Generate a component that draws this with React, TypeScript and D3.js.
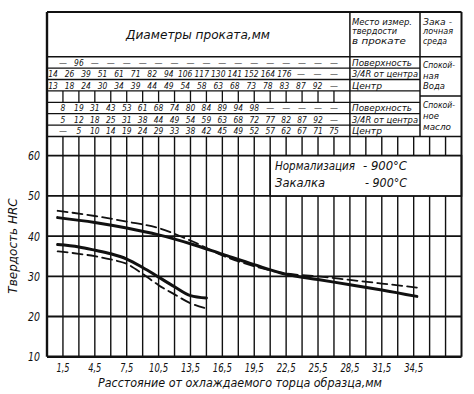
import * as d3 from 'd3';

const W = 474;
const H = 394;

// bar diameters (mm) that match each distance, table above the chart
const waterSurface = ['—', '96', '—', '—', '—', '—', '—', '—', '—', '—', '—', '—', '—', '—', '—', '—', '—', '—'];
const waterQuarter = ['14', '26', '39', '51', '61', '71', '82', '94', '106', '117', '130', '141', '152', '164', '176', '—', '—', '—'];
const waterCenter = ['13', '18', '24', '30', '34', '39', '44', '49', '54', '58', '63', '68', '73', '78', '83', '87', '92', '—'];
const oilSurface = ['8', '19', '31', '43', '53', '61', '68', '74', '80', '84', '89', '94', '98', '—', '—', '—', '—', '—'];
const oilQuarter = ['5', '12', '18', '25', '31', '38', '44', '49', '54', '59', '63', '68', '72', '77', '82', '87', '92', '—'];
const oilCenter = ['—', '5', '10', '14', '19', '24', '29', '33', '38', '42', '45', '49', '52', '57', '62', '67', '71', '75'];

const placeLabels = ['Поверхность', '3/4R от центра', 'Центр'];
const placeWidths = [60, 66, 30];

// hardness curves, HRC vs distance from quenched end (mm)
const upperX = [1, 4.5, 7.5, 10.5, 13.5, 16.5, 19.5, 22.5, 25.5, 28.5, 31.5, 34.8];
const upperSolid = [44.6, 43.4, 42.0, 40.3, 38.1, 35.5, 32.9, 30.5, 29.2, 27.9, 26.6, 25.0];
const upperDashed = [46.3, 45.0, 43.6, 42.0, 38.9, 35.2, 32.5, 30.7, 30.0, 29.1, 28.2, 27.2];

const lowerX = [1, 3, 4.5, 6, 7.5, 9, 10.5, 12, 13.5, 15];
const lowerSolid = [37.9, 37.3, 36.5, 35.6, 34.3, 32.2, 29.8, 27.4, 25.2, 24.6];
const lowerDashed = [36.2, 35.6, 35.0, 34.2, 33.1, 30.6, 27.8, 25.5, 23.3, 22.0];

const xTicks = [1.5, 4.5, 7.5, 10.5, 13.5, 16.5, 19.5, 22.5, 25.5, 28.5, 31.5, 34.5];
const yTicks = [10, 20, 30, 40, 50, 60];

const FONT = '"DejaVu Sans", sans-serif';

const x = d3.scaleLinear([0, 39], [47, 461.5]);
const y = d3.scaleLinear([10, 60], [356.7, 155.7]);

const TOP = 12;
const rowY = [56.7, 68.1, 79.5, 90.9, 102.3, 113.7, 125.1, 136.5];
const placeX = x(28.5);
const mediumX = 420;
const mediumSplit = 96;

const gridX = d3.range(1, 26).map((k) => k * 1.5);

function curve(xs: number[], ys: number[]) {
  const pts = xs.map((d, i) => [d, ys[i]] as [number, number]);
  return d3
    .line<[number, number]>()
    .x((d) => x(d[0]))
    .y((d) => y(d[1]))
    .curve(d3.curveMonotoneX)(pts) as string;
}

// narrow text, squeezed to a fixed width
function T({ x: tx, y: ty, w, size, anchor, children }: any) {
  return (
    <text
      x={tx}
      y={ty}
      fontSize={size}
      textAnchor={anchor}
      textLength={w}
      lengthAdjust="spacingAndGlyphs"
    >
      {children}
    </text>
  );
}

function NumberRow({ values, row, tight }: { values: string[]; row: number; tight?: boolean }) {
  // rows 2 and 3 start at the left edge, the others at the first grid line
  const pos = tight ? d3.scaleLinear([0, values.length - 1], [53, x(27)]) : (i: number) => x(1.5 * (i + 1));
  return (
    <g>
      {values.map((v, i) => (
        <T key={i} x={pos(i)} y={rowY[row] + 9} size={9.5} anchor="middle" w={v === '—' ? 8 : v.length * 4.8}>
          {v}
        </T>
      ))}
    </g>
  );
}

export default function App() {
  const legendLeft = x(21);
  return (
    <svg
      width={W}
      height={H}
      style={{ position: 'absolute', left: 0, top: 0, background: '#fff' }}
      fontFamily={FONT}
      fontStyle="italic"
      fill="#111"
    >
      <rect width={W} height={H} fill="#fff" />

      {/* chart grid */}
      <g stroke="#111">
        {gridX.map((d) => (
          <line key={d} x1={x(d)} x2={x(d)} y1={rowY[7]} y2={y(10)} strokeWidth={1.4} />
        ))}
        {yTicks.slice(1).map((d) => (
          <line key={d} x1={x(0)} x2={x(39)} y1={y(d)} y2={y(d)} strokeWidth={1.8} />
        ))}
      </g>

      {/* legend box */}
      <rect
        x={legendLeft}
        y={y(60)}
        width={x(39) - legendLeft}
        height={y(50) - y(60)}
        fill="#fff"
        stroke="#111"
        strokeWidth={1.6}
      />
      <T x={275} y={170} size={11.5} w={80}>Нормализация</T>
      <T x={363} y={170} size={11.5} w={44}>- 900°C</T>
      <T x={275} y={186.5} size={11.5} w={50}>Закалка</T>
      <T x={365} y={186.5} size={11.5} w={42}>- 900°C</T>

      {/* table lines */}
      <g stroke="#111" strokeWidth={1.5}>
        <line x1={x(0)} x2={x(39)} y1={TOP} y2={TOP} strokeWidth={2} />
        <line x1={x(0)} x2={x(39)} y1={rowY[0]} y2={rowY[0]} />
        {rowY.slice(1, 7).map((d) => (
          <line key={d} x1={x(0)} x2={mediumX} y1={d} y2={d} strokeWidth={1.3} />
        ))}
        <line x1={x(0)} x2={x(39)} y1={rowY[7]} y2={rowY[7]} strokeWidth={1.6} />
        <line x1={placeX} x2={placeX} y1={TOP} y2={rowY[7]} />
        <line x1={mediumX} x2={mediumX} y1={TOP} y2={rowY[7]} />
        <line x1={mediumX} x2={x(39)} y1={mediumSplit} y2={mediumSplit} />
        {d3.range(1, 19).map((k) => (
          <line key={k} x1={x(k * 1.5)} x2={x(k * 1.5)} y1={rowY[3]} y2={rowY[4]} strokeWidth={1.3} />
        ))}
      </g>

      {/* frame */}
      <g stroke="#111">
        <line x1={x(0)} x2={x(0)} y1={TOP} y2={y(10)} strokeWidth={2.4} />
        <line x1={x(39)} x2={x(39)} y1={TOP} y2={y(10)} strokeWidth={2} />
        <line x1={x(0)} x2={x(39)} y1={y(10)} y2={y(10)} strokeWidth={2.6} />
      </g>

      {/* table text */}
      <T x={126} y={39} size={13} w={144}>Диаметры проката,мм</T>
      <T x={352} y={24.5} size={9.5} w={60}>Место измер.</T>
      <T x={352} y={34} size={9.5} w={45}>твердости</T>
      <T x={352} y={43.5} size={9.5} w={54}>в прокате</T>
      <T x={423} y={24.5} size={9.5} w={29}>Зака -</T>
      <T x={423} y={34} size={9.5} w={30}>лочная</T>
      <T x={423} y={43.5} size={9.5} w={24}>среда</T>

      <NumberRow values={waterSurface} row={0} />
      <NumberRow values={waterQuarter} row={1} tight />
      <NumberRow values={waterCenter} row={2} tight />
      <NumberRow values={oilSurface} row={4} />
      <NumberRow values={oilQuarter} row={5} />
      <NumberRow values={oilCenter} row={6} />

      {[0, 1, 2, 4, 5, 6].map((r, i) => (
        <T key={r} x={352} y={rowY[r] + 9} size={9.5} w={placeWidths[i % 3]}>
          {placeLabels[i % 3]}
        </T>
      ))}
      <T x={423} y={67.5} size={8.3} w={32}>Спокой-</T>
      <T x={423} y={78.5} size={8.3} w={16}>ная</T>
      <T x={423} y={89} size={8.3} w={22}>Вода</T>
      <T x={423} y={107.5} size={8.3} w={32}>Спокой-</T>
      <T x={423} y={118.5} size={8.3} w={16}>ное</T>
      <T x={423} y={129.5} size={8.3} w={28}>масло</T>

      {/* curves */}
      <g fill="none" stroke="#111" strokeLinecap="round">
        <path d={curve(upperX, upperSolid)} strokeWidth={3} />
        <path d={curve(upperX, upperDashed)} strokeWidth={1.8} strokeDasharray="10 5" />
        <path d={curve(lowerX, lowerSolid)} strokeWidth={3} />
        <path d={curve(lowerX, lowerDashed)} strokeWidth={1.8} strokeDasharray="10 5" />
      </g>

      {/* axes labels */}
      {yTicks.map((d) => (
        <T key={d} x={40} y={y(d) + 4.5} size={12.5} anchor="end" w={12}>
          {d}
        </T>
      ))}
      {xTicks.map((d) => (
        <T key={d} x={x(d)} y={372} size={12} anchor="middle" w={d >= 10 ? 19 : 13}>
          {String(d).replace('.', ',')}
        </T>
      ))}
      <T x={98} y={387} size={12.5} w={284}>Расстояние от охлаждаемого торца образца,мм</T>
      <text transform="translate(17,246) rotate(-90)" textAnchor="middle" fontSize={12}>
        Твердость HRC
      </text>
    </svg>
  );
}
